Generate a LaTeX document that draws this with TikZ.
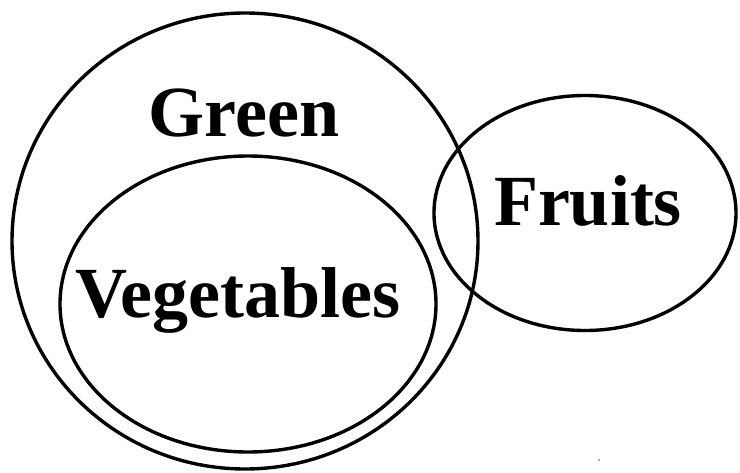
\documentclass[tikz,border=0pt]{standalone}
\usepackage{fontspec}
\setmainfont{Liberation Serif}
\usetikzlibrary{shapes.geometric}

\begin{document}
\begin{tikzpicture}[x=1pt,y=-1pt]
\tikzstyle{every node}=[inner sep=0pt, outer sep=0pt]
\tikzstyle{set}=[draw, ellipse, line width=3.4pt]
\tikzstyle{lbl}=[anchor=base, font=\fontsize{72}{72}\selectfont\bfseries]
\useasboundingbox (0,0) rectangle (740,472);
\node (green) [set, minimum width=466pt, minimum height=456pt] at (245,241) {};
\node (veg) [set, minimum width=376pt, minimum height=296pt] at (248,304) {};
\node (fruits) [set, minimum width=302pt, minimum height=235pt] at (585,213) {};
\node (tgreen) [lbl] at (244,136) {Green};
\node (tveg) [lbl] at (238,317) {Vegetables};
\node (tfruits) [lbl] at (588,225) {Fruits};
\fill[gray] (599,460) circle (1pt);
\end{tikzpicture}
\end{document}
